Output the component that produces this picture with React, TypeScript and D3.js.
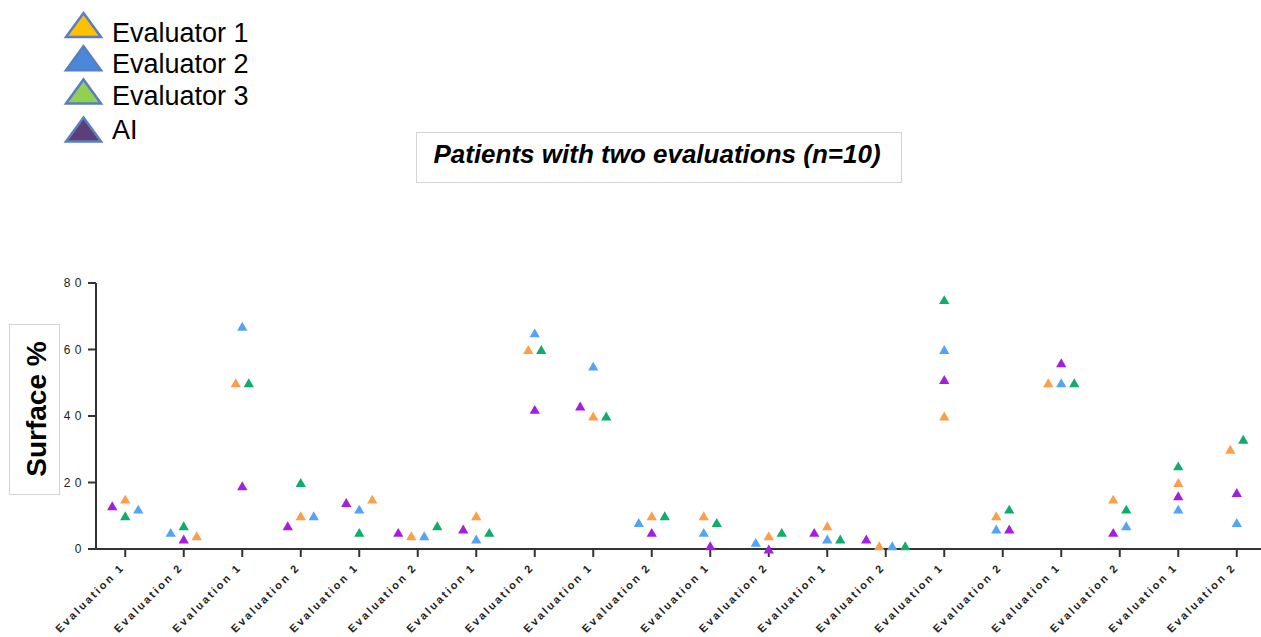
import React from "react";
import * as d3 from "d3";

// ---- data ----
const categories = [
  "Evaluation 1", "Evaluation 2", "Evaluation 1", "Evaluation 2", "Evaluation 1",
  "Evaluation 2", "Evaluation 1", "Evaluation 2", "Evaluation 1", "Evaluation 2",
  "Evaluation 1", "Evaluation 2", "Evaluation 1", "Evaluation 2", "Evaluation 1",
  "Evaluation 2", "Evaluation 1", "Evaluation 2", "Evaluation 1", "Evaluation 2",
];
const evaluator1 = [15, 4, 50, 10, 15, 4, 10, 60, 40, 10, 10, 4, 7, 1, 40, 10, 50, 15, 20, 30];
const evaluator2 = [12, 5, 67, 10, 12, 4, 3, 65, 55, 8, 5, 2, 3, 1, 60, 6, 50, 7, 12, 8];
const evaluator3 = [10, 7, 50, 20, 5, 7, 5, 60, 40, 10, 8, 5, 3, 1, 75, 12, 50, 12, 25, 33];
const ai = [13, 3, 19, 7, 14, 5, 6, 42, 43, 5, 1, 0, 5, 3, 51, 6, 56, 5, 16, 17];
const seriesNames = ["Evaluator 1", "Evaluator 2", "Evaluator 3", "AI"];
const yTicks = [0, 20, 40, 60, 80];
const title = "Patients with two evaluations (n=10)";
const yLabel = "Surface %";

const seriesValues = [evaluator1, evaluator2, evaluator3, ai];
const markerColors = ["#FB9F4B", "#55A3F6", "#0FAD6B", "#A41EDF"];
const legendFills = ["#FFC000", "#4A88D9", "#92D050", "#5E3E78"];
// horizontal tie-break preference (higher -> prefers left)
const pref = [1, 2, 0, 3];

const W = 1261;
const H = 637;

const x = d3.scalePoint<number>()
  .domain(categories.map((_, i) => i))
  .range([96, 1266])
  .padding(0.5);
const y = d3.scaleLinear().domain([0, 80]).range([549, 283]);

// spread overlapping markers horizontally (scatter dot plot style)
function layoutCategory(vals: number[]): number[] {
  const G = [-26, -19.5, -13, -6.5, 0, 6.5, 13, 19.5, 26];
  const n = vals.length;
  let best: number[] = vals.map(() => 0);
  let bestCost = Infinity;
  const cur: number[] = new Array(n).fill(0);
  const rec = (k: number, cost: number) => {
    if (k === n) {
      if (cost < bestCost) { bestCost = cost; best = cur.slice(); }
      return;
    }
    for (const g of G) {
      let ok = true;
      for (let j = 0; j < k; j++) {
        const dy = Math.abs(y(vals[k]) - y(vals[j]));
        if (dy < 11 && Math.abs(g - cur[j]) < 12) { ok = false; break; }
        if (vals[j] === vals[k] && !(cur[j] < g)) { ok = false; break; }
      }
      if (!ok) continue;
      cur[k] = g;
      rec(k + 1, cost + g * g + 0.01 * pref[k] * g);
    }
  };
  rec(0, 0);
  return best;
}

const tri = d3.symbol().type(d3.symbolTriangle).size(46)() as string;
const legendTri = "M0,-12L17.5,12L-17.5,12Z";

export default function App() {
  const points: { cx: number; cy: number; s: number; key: string }[] = [];
  categories.forEach((_, i) => {
    const vals = seriesValues.map((sv) => sv[i]);
    const offs = layoutCategory(vals);
    vals.forEach((v, s) => {
      points.push({ cx: (x(i) as number) + offs[s], cy: y(v) + 1.5, s, key: `${i}-${s}` });
    });
  });

  const axisColor = "#333";
  const font = "'Liberation Sans', Arial, sans-serif";

  return (
    <svg width={W} height={H} style={{ position: "absolute", left: 0, top: 0, background: "#fff" }} fontFamily={font}>
      {/* legend */}
      {seriesNames.map((name, i) => {
        const last = i === seriesNames.length - 1;
        const base = 42 + i * 31.3 + (last ? 3.5 : 0);
        const triY = 25 + i * 33.2 + (last ? 5 : 0);
        return (
          <g key={name}>
            <path d={legendTri} transform={`translate(83.5,${triY})`} fill={legendFills[i]} stroke="#5A7EC0" strokeWidth={2.5} strokeLinejoin="miter" />
            <text x={112} y={base} fontSize={27} fill="#000">{name}</text>
          </g>
        );
      })}

      {/* title */}
      <rect x={416.5} y={132.5} width={485} height={50} fill="#fff" stroke="#d4d4d4" strokeWidth={1} />
      <text x={657} y={163} textAnchor="middle" fontSize={26} fontWeight="bold" fontStyle="italic" fill="#000">{title}</text>

      {/* y label */}
      <rect x={9.5} y={324.5} width={50} height={170} fill="#fff" stroke="#d4d4d4" strokeWidth={1} />
      <text transform="translate(46,409) rotate(-90)" textAnchor="middle" fontSize={28} fontWeight="bold" fill="#000">{yLabel}</text>

      {/* y axis */}
      <line x1={96} x2={96} y1={y(80)} y2={y(0) + 1} stroke={axisColor} strokeWidth={2} />
      {yTicks.map((t) => (
        <g key={t}>
          <line x1={88} x2={96} y1={y(t)} y2={y(t)} stroke={axisColor} strokeWidth={2} />
          <text x={86} y={y(t)} dy="0.35em" textAnchor="end" fontSize={12} letterSpacing={4.5} fill="#222">{t}</text>
        </g>
      ))}

      {/* x axis */}
      <line x1={95} x2={W} y1={y(0)} y2={y(0)} stroke={axisColor} strokeWidth={2} />
      {categories.map((c, i) => {
        const cx = x(i) as number;
        return (
          <g key={i}>
            <line x1={cx} x2={cx} y1={y(0)} y2={y(0) + 8} stroke={axisColor} strokeWidth={2} />
            <text transform={`translate(${cx},568) rotate(-45)`} textAnchor="end" fontSize={11} fontWeight="bold" letterSpacing={2.3} fill="#222">{c}</text>
          </g>
        );
      })}

      {/* points */}
      {points.map((p) => (
        <path key={p.key} d={tri} transform={`translate(${p.cx},${p.cy})`} fill={markerColors[p.s]} />
      ))}
    </svg>
  );
}
